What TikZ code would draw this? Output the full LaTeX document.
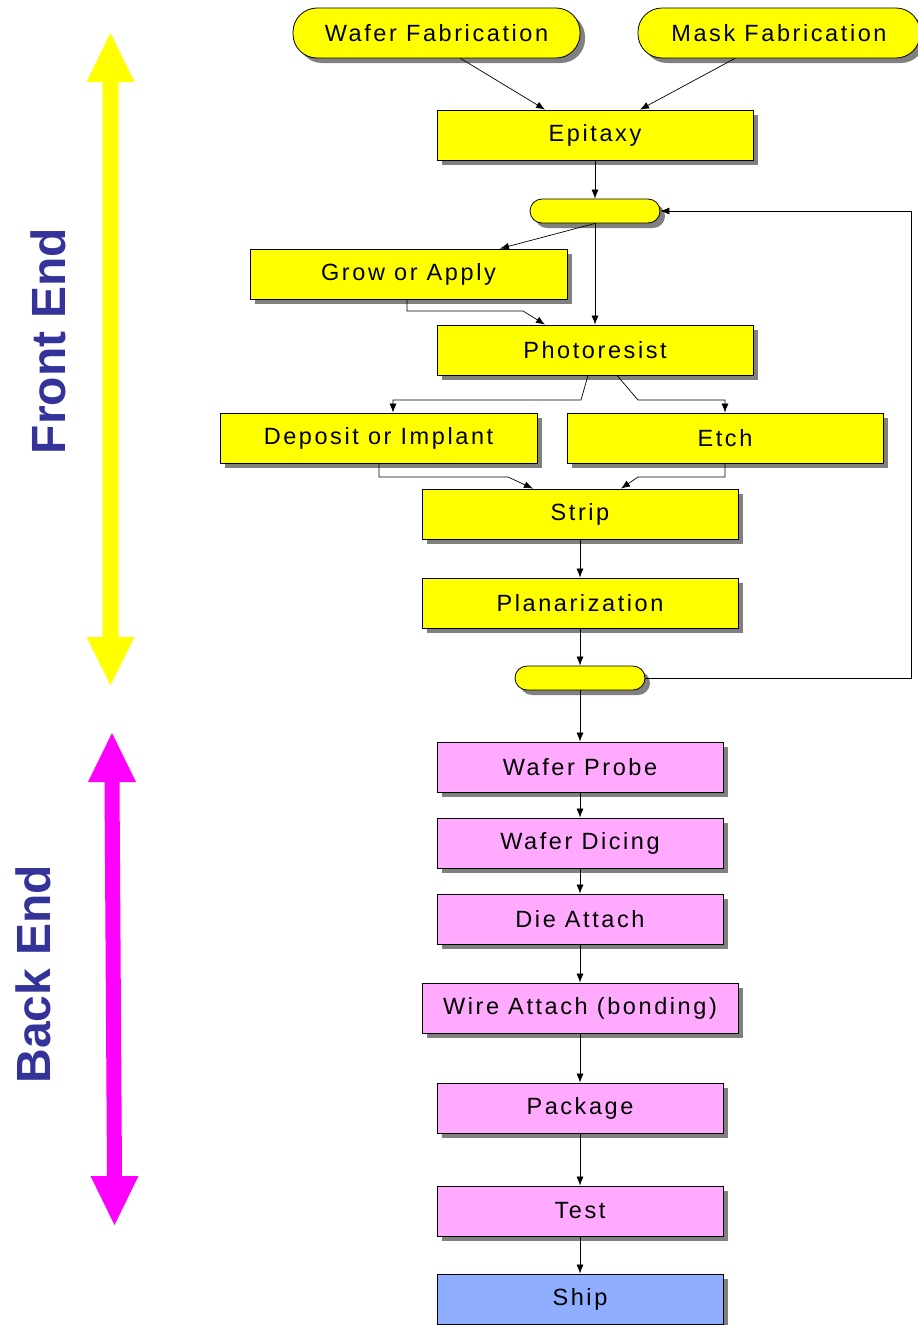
\documentclass[tikz,border=0pt]{standalone}
\usepackage{fontspec}
\setmainfont{Liberation Sans}
\newfontfamily\boxfont[LetterSpace=11]{Liberation Sans}
\usetikzlibrary{arrows.meta,shadows,calc}
\definecolor{shgray}{RGB}{128,128,128}
\definecolor{pinkbox}{RGB}{255,170,255}
\definecolor{shipblue}{RGB}{143,174,255}
\definecolor{labelblue}{RGB}{51,51,153}
\definecolor{bigmag}{RGB}{255,0,255}
\definecolor{bigyel}{RGB}{255,255,0}
\tikzset{
  boxbase/.style={draw=black, line width=0.8pt, inner sep=0pt, minimum height=50pt,
    font=\boxfont\fontsize{23.5}{27}\selectfont,
    general shadow={fill=shgray, shadow xshift=5pt, shadow yshift=-5pt}},
  ybox/.style={boxbase, fill=bigyel, rectangle},
  pbox/.style={boxbase, fill=pinkbox, rectangle},
  bbox/.style={boxbase, fill=shipblue, rectangle},
  pill/.style={boxbase, fill=bigyel, rectangle, rounded corners=24pt},
  spill/.style={boxbase, fill=bigyel, rectangle, rounded corners=12pt, minimum height=24pt, minimum width=130pt},
  arr/.style={draw=black, line width=0.7pt, -{Latex[length=9pt,width=7pt]}},
  biglabel/.style={text=labelblue, font=\bfseries\fontsize{48}{52}\selectfont, rotate=90}
}
\begin{document}
\begin{tikzpicture}[x=1pt,y=-1pt]
\useasboundingbox (0,0) rectangle (918,1325);
% big arrows
\fill[bigyel] (110.5,33) -- (134.5,82) -- (118.5,82) -- (118.5,637) -- (134.5,637) -- (110.5,685) -- (86.5,637) -- (102.5,637) -- (102.5,82) -- (86.5,82) -- cycle;
\fill[bigmag] (112,733) -- (136,782) -- (119.5,782) -- (122,1176) -- (138.5,1176) -- (114.5,1225) -- (90.5,1176) -- (107,1176) -- (104.5,782) -- (88,782) -- cycle;
\node[biglabel] (fe) at (48,341) {Front End};
\node[biglabel] (be) at (33,974) {Back End};
% nodes
\node[pill, minimum width=287pt] (wf) at (436.5,33) {Wafer Fabrication};
\node[pill, minimum width=282pt] (mf) at (779,33) {Mask Fabrication};
\node[ybox, minimum width=316pt] (epi) at (595,135) {Epitaxy};
\node[spill] (p1) at (595,211) {};
\node[ybox, minimum width=317pt] (grow) at (408.5,274) {Grow or Apply};
\node[ybox, minimum width=316pt] (photo) at (595,350) {Photoresist};
\node[ybox, minimum width=317pt] (dep) at (378.5,438) {Deposit or Implant};
\node[ybox, minimum width=316pt] (etch) at (725,438) {Etch};
\node[ybox, minimum width=316pt] (strip) at (580,514) {Strip};
\node[ybox, minimum width=316pt] (plan) at (580,603) {Planarization};
\node[spill] (p2) at (580,678) {};
\node[pbox, minimum width=286pt] (probe) at (580,767) {Wafer Probe};
\node[pbox, minimum width=286pt] (dicing) at (580,843) {Wafer Dicing};
\node[pbox, minimum width=286pt] (die) at (580,919) {Die Attach};
\node[pbox, minimum width=316pt] (wire) at (580,1008) {Wire Attach (bonding)};
\node[pbox, minimum width=286pt] (pkg) at (580,1108) {Package};
\node[pbox, minimum width=286pt] (test) at (580,1211) {Test};
\node[bbox, minimum width=286pt] (ship) at (580,1299) {Ship};
% corner coordinates
\coordinate (g1) at (407,311);
\coordinate (g2) at (523,311);
\coordinate (d1) at (581,400);
\coordinate (d2) at (393,400);
\coordinate (e1) at (638,400);
\coordinate (e2) at (725,400);
\coordinate (s1) at (379,477);
\coordinate (s2) at (508,477);
\coordinate (s3) at (725,477);
\coordinate (s4) at (638,477);
\coordinate (l1) at (911,678);
\coordinate (l2) at (911,211);
% connectors
\draw[arr] ([xshift=24pt]wf.south) -- ([xshift=-50pt]epi.north);
\draw[arr] ([xshift=-44pt]mf.south) -- ([xshift=45pt]epi.north);
\draw[arr] (epi) -- (p1);
\draw[arr] (p1.south) -- ([xshift=91.5pt]grow.north);
\draw[arr] (p1.south) -- (photo.north);
\draw[arr] ([xshift=-1.5pt]grow.south) -- (g1) -- (g2) -- ([xshift=-50pt]photo.north);
\draw[arr] ([xshift=-7pt]photo.south) -- (d1) -- (d2) -- ([xshift=14.5pt]dep.north);
\draw[arr] ([xshift=22pt]photo.south) -- (e1) -- (e2) -- (etch.north);
\draw[arr] ([xshift=0.5pt]dep.south) -- (s1) -- (s2) -- ([xshift=-47pt]strip.north);
\draw[arr] (etch.south) -- (s3) -- (s4) -- ([xshift=41pt]strip.north);
\draw[arr] (strip) -- (plan);
\draw[arr] (plan) -- (p2);
\draw[arr] (p2.east) -- (l1) -- (l2) -- (p1.east);
\draw[arr] (p2) -- (probe);
\draw[arr] (probe) -- (dicing);
\draw[arr] (dicing) -- (die);
\draw[arr] (die) -- (wire);
\draw[arr] (wire) -- (pkg);
\draw[arr] (pkg) -- (test);
\draw[arr] (test) -- (ship);
\end{tikzpicture}
\end{document}
